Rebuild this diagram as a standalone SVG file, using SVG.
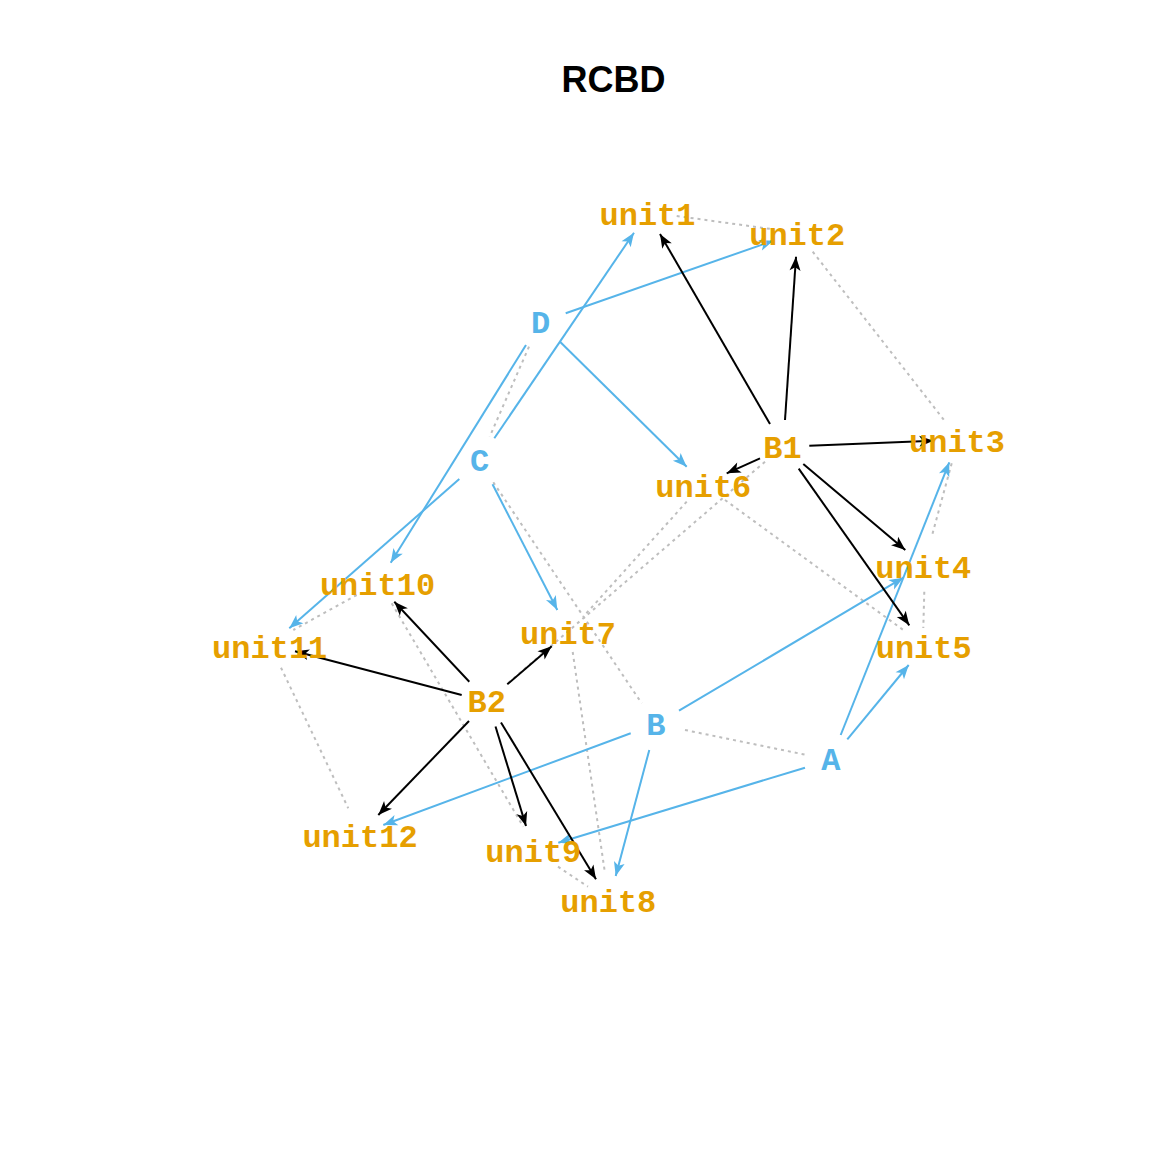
<svg xmlns="http://www.w3.org/2000/svg" width="1152" height="1152" viewBox="0 0 1152 1152">
<style>
.title{font-family:"Liberation Sans",Arial,sans-serif;font-weight:bold;font-size:36px;fill:#000}
.lbl{font-family:"Liberation Mono","Courier New",monospace;font-weight:bold;font-size:32px;text-anchor:middle}
.unit{fill:#E69F00}
.blk{fill:#E69F00}
.trt{fill:#56B4E9}
.dot{stroke:#BEBEBE;stroke-width:2;stroke-dasharray:3 4;fill:none}
.be{stroke:#56B4E9;stroke-width:2;fill:none;marker-end:url(#ab)}
.ke{stroke:#000;stroke-width:2;fill:none;marker-end:url(#ak)}
</style>
<defs>
<marker id="ab" markerUnits="userSpaceOnUse" markerWidth="15" markerHeight="11" refX="14" refY="5.5" orient="auto" overflow="visible">
<path d="M0,0 L14,5.5 L0,11 L3.5,5.5 z" fill="#56B4E9"/>
</marker>
<marker id="ak" markerUnits="userSpaceOnUse" markerWidth="15" markerHeight="11" refX="14" refY="5.5" orient="auto" overflow="visible">
<path d="M0,0 L14,5.5 L0,11 L3.5,5.5 z" fill="#000"/>
</marker>
</defs>
<rect width="1152" height="1152" fill="#fff"/>
<text class="title" x="613.5" y="92" text-anchor="middle">RCBD</text>
<g id="connectors">
<g id="chain-edges">
<line class="dot" x1="676.7" y1="216" x2="773.3" y2="229.3"/>
<line class="dot" x1="812.7" y1="251.7" x2="944" y2="420"/>
<line class="dot" x1="951.7" y1="463.3" x2="931.7" y2="536.7"/>
<line class="dot" x1="924.3" y1="591.7" x2="923.3" y2="628"/>
<line class="dot" x1="725" y1="500" x2="903.3" y2="630"/>
<line class="dot" x1="686.7" y1="501.7" x2="583.3" y2="616.7"/>
<line class="dot" x1="572.7" y1="652" x2="605" y2="873.3"/>
<line class="dot" x1="558" y1="866.7" x2="588" y2="886.7"/>
<line class="dot" x1="391.7" y1="603.3" x2="523.3" y2="826.7"/>
<line class="dot" x1="356.7" y1="595" x2="293.3" y2="630"/>
<line class="dot" x1="281" y1="667.7" x2="348.3" y2="808.3"/>
<line class="dot" x1="765" y1="461.7" x2="507" y2="684"/>
<line class="dot" x1="529" y1="346.7" x2="489.7" y2="436.7"/>
<line class="dot" x1="493.3" y1="482.3" x2="641.7" y2="703.3"/>
<line class="dot" x1="685" y1="730" x2="806.7" y2="755"/>
</g>
<g id="treatment-edges">
<line class="be" x1="565.7" y1="313.3" x2="773.3" y2="240.7"/>
<line class="be" x1="494.3" y1="438.3" x2="634" y2="232.7"/>
<line class="be" x1="560" y1="341.7" x2="686.7" y2="466.7"/>
<line class="be" x1="526" y1="345" x2="390.7" y2="562.7"/>
<line class="be" x1="459.3" y1="479" x2="289.3" y2="628.3"/>
<line class="be" x1="492.5" y1="484.3" x2="557.3" y2="610"/>
<line class="be" x1="679" y1="710.7" x2="903.3" y2="577.7"/>
<line class="be" x1="630.7" y1="733.3" x2="383.3" y2="825"/>
<line class="be" x1="649.3" y1="750" x2="615.7" y2="876"/>
<line class="be" x1="840.7" y1="735" x2="949.3" y2="462.3"/>
<line class="be" x1="847.3" y1="739.3" x2="908.7" y2="665"/>
<line class="be" x1="805" y1="767.7" x2="558.3" y2="842.7"/>
</g>
<g id="block-edges">
<line class="ke" x1="770" y1="424" x2="660" y2="234"/>
<line class="ke" x1="785" y1="420" x2="796" y2="256.7"/>
<line class="ke" x1="809.3" y1="445.7" x2="933.3" y2="440.7"/>
<line class="ke" x1="760" y1="458.3" x2="726.7" y2="473.3"/>
<line class="ke" x1="803.3" y1="464" x2="905.3" y2="550"/>
<line class="ke" x1="798.7" y1="468.7" x2="909.3" y2="625.3"/>
<line class="ke" x1="469.3" y1="681.7" x2="394.3" y2="601.7"/>
<line class="ke" x1="461.7" y1="695" x2="295" y2="651.2"/>
<line class="ke" x1="507.3" y1="684.3" x2="551.7" y2="646.3"/>
<line class="ke" x1="469" y1="721" x2="378.3" y2="815"/>
<line class="ke" x1="495.5" y1="726.5" x2="526" y2="826"/>
<line class="ke" x1="501" y1="722.5" x2="596" y2="879.3"/>
</g>
</g>
<g id="nodes">
<g id="unit1"><text class="lbl unit" x="647.5" y="225">unit1</text></g>
<g id="unit2"><text class="lbl unit" x="797.2" y="245">unit2</text></g>
<g id="unit3"><text class="lbl unit" x="957" y="452.4">unit3</text></g>
<g id="unit4"><text class="lbl unit" x="923.3" y="577.7">unit4</text></g>
<g id="unit5"><text class="lbl unit" x="923.7" y="657.7">unit5</text></g>
<g id="unit6"><text class="lbl unit" x="703.3" y="496.7">unit6</text></g>
<g id="unit7"><text class="lbl unit" x="568" y="644.4">unit7</text></g>
<g id="unit8"><text class="lbl unit" x="608.3" y="912.4">unit8</text></g>
<g id="unit9"><text class="lbl unit" x="533.3" y="862.4">unit9</text></g>
<g id="unit10"><text class="lbl unit" x="377.5" y="595">unit10</text></g>
<g id="unit11"><text class="lbl unit" x="269.7" y="657.7">unit11</text></g>
<g id="unit12"><text class="lbl unit" x="360" y="846.7">unit12</text></g>
<g id="B1"><text class="lbl blk" x="782.5" y="457.7">B1</text></g>
<g id="B2"><text class="lbl blk" x="486.7" y="712.4">B2</text></g>
<g id="A"><text class="lbl trt" x="830.8" y="770">A</text></g>
<g id="B"><text class="lbl trt" x="655.8" y="735">B</text></g>
<g id="C"><text class="lbl trt" x="479.5" y="471">C</text></g>
<g id="D"><text class="lbl trt" x="540.7" y="332.7">D</text></g>
</g>
</svg>
